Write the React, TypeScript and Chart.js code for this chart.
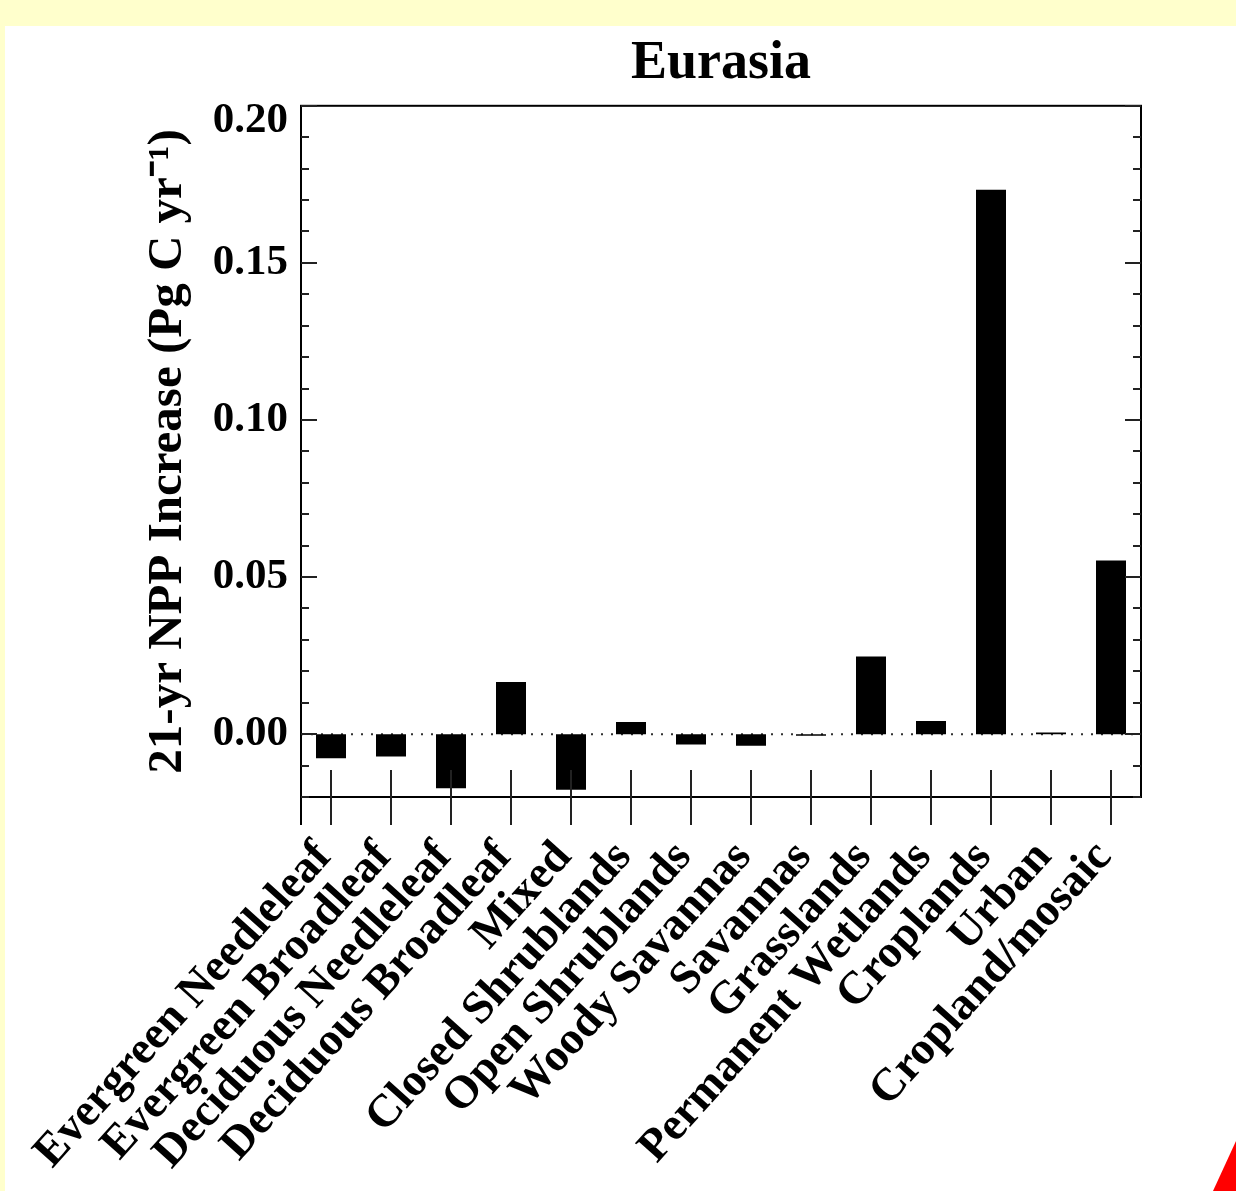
import { useEffect, useRef } from 'react';
import { Chart, registerables } from 'chart.js';

Chart.register(...registerables);

const categories = [
  'Evergreen Needleleaf',
  'Evergreen Broadleaf',
  'Deciduous Needleleaf',
  'Deciduous Broadleaf',
  'Mixed',
  'Closed Shrublands',
  'Open Shrublands',
  'Woody Savannas',
  'Savannas',
  'Grasslands',
  'Permanent Wetlands',
  'Croplands',
  'Urban',
  'Cropland/mosaic',
];

const nppIncrease = [
  -0.0077, -0.0071, -0.0172, 0.0166, -0.0177, 0.0039, -0.0033, -0.0037,
  -0.0005, 0.0247, 0.0042, 0.1733, 0.0005, 0.0553,
];

const yTickValues = [0, 0.05, 0.1, 0.15, 0.2];
const yTickLabels = ['0.00', '0.05', '0.10', '0.15', '0.20'];
const yMinorTickValues = [
  -0.02, -0.01, 0.01, 0.02, 0.03, 0.04, 0.06, 0.07, 0.08, 0.09, 0.11, 0.12,
  0.13, 0.14, 0.16, 0.17, 0.18, 0.19,
];

const chartTitle = 'Eurasia';
const yAxisTitle = '21-yr NPP Increase (Pg C yr\u207B\u00B9)';

const FONT = "'Liberation Serif', 'Times New Roman', Times, serif";

const framePlugin = {
  id: 'idlFrame',
  beforeDatasetsDraw(chart: any) {
    const { ctx, chartArea: a, scales } = chart;
    const y0 = scales.y.getPixelForValue(0);
    ctx.save();
    ctx.strokeStyle = '#333';
    ctx.lineWidth = 2;
    ctx.setLineDash([2, 8]);
    ctx.beginPath();
    ctx.moveTo(a.left, y0);
    ctx.lineTo(a.right, y0);
    ctx.stroke();
    ctx.restore();
  },
  afterDraw(chart: any) {
    const { ctx, chartArea: a, scales } = chart;
    const x = scales.x;
    const y = scales.y;
    ctx.save();
    ctx.strokeStyle = '#000';
    ctx.lineWidth = 2;
    ctx.strokeRect(a.left, a.top, a.right - a.left, a.bottom - a.top);
    ctx.beginPath();
    ctx.moveTo(a.left, a.bottom);
    ctx.lineTo(a.left, a.bottom + 28);
    ctx.stroke();

    ctx.strokeStyle = '#222';
    ctx.beginPath();
    const tick = (v: number, len: number) => {
      const p = Math.round(y.getPixelForValue(v));
      ctx.moveTo(a.left, p);
      ctx.lineTo(a.left + len, p);
      ctx.moveTo(a.right, p);
      ctx.lineTo(a.right - len, p);
    };
    yTickValues.forEach((v) => tick(v, 16));
    yMinorTickValues.forEach((v) => tick(v, 8));
    categories.forEach((_, i) => {
      const px = Math.round(x.getPixelForValue(i));
      ctx.moveTo(px, a.bottom - 27);
      ctx.lineTo(px, a.bottom + 28);
    });
    ctx.stroke();
    ctx.restore();
  },
};

export default function App() {
  const canvasRef = useRef<HTMLCanvasElement | null>(null);

  useEffect(() => {
    if (!canvasRef.current) return;
    const chart = new Chart(canvasRef.current, {
      type: 'bar',
      data: {
        labels: categories,
        datasets: [
          {
            data: nppIncrease,
            backgroundColor: '#000',
            borderWidth: 0,
            barPercentage: 0.5,
            categoryPercentage: 1.0,
          },
        ],
      },
      options: {
        responsive: false,
        animation: false,
        devicePixelRatio: 1,
        layout: { padding: { left: 0, right: 95, top: 0, bottom: 0 } },
        plugins: {
          legend: { display: false },
          tooltip: { enabled: false },
          title: {
            display: true,
            text: chartTitle,
            fullSize: false,
            color: '#000',
            font: { family: FONT, size: 54, weight: 'bold', lineHeight: 1.2 },
            padding: { top: 32, bottom: 9 },
          },
        },
        scales: {
          x: {
            type: 'category',
            offset: true,
            grid: { display: false, drawTicks: false },
            border: { display: false },
            ticks: {
              color: '#000',
              font: { family: FONT, size: 46, weight: 'bold' },
              minRotation: 48,
              maxRotation: 48,
              autoSkip: false,
              padding: 34,
              labelOffset: -7,
            },
            afterFit: (scale: any) => {
              scale.height = 1191 - 797;
              scale.paddingLeft = 0;
              scale.paddingRight = 0;
            },
          },
          y: {
            type: 'linear',
            min: -0.02,
            max: 0.2,
            grid: { display: false, drawTicks: false },
            border: { display: false },
            afterBuildTicks: (scale: any) => {
              scale.ticks = yTickValues.map((v) => ({ value: v }));
            },
            ticks: {
              color: '#000',
              padding: 13,
              font: (ctx: any) => ({
                family: FONT,
                size: 43,
                weight: 'bold',
                lineHeight:
                  ctx.tick && Math.abs(ctx.tick.value - 0.2) < 1e-9 ? 0.7 : 1.2,
              }),
              callback: (value: any) => {
                const idx = yTickValues.findIndex((v) => Math.abs(v - Number(value)) < 1e-9);
                const label = idx >= 0 ? yTickLabels[idx] : '';
                return idx === yTickValues.length - 1 ? ['', label] : label;
              },
            },
            title: {
              display: true,
              text: yAxisTitle,
              color: '#000',
              font: { family: FONT, size: 49, weight: 'bold' },
              padding: { top: 139, bottom: 0 },
            },
            afterFit: (scale: any) => {
              scale.width = 301;
              scale.paddingTop = 0;
              scale.paddingBottom = 0;
            },
          },
        },
      },
      plugins: [framePlugin],
    });
    return () => chart.destroy();
  }, []);

  return (
    <div
      style={{
        position: 'fixed',
        left: 0,
        top: 0,
        width: 1236,
        height: 1191,
        background: '#FFFFCC',
        overflow: 'hidden',
      }}
    >
      <div
        style={{
          position: 'absolute',
          left: 5,
          top: 26,
          right: 0,
          bottom: 0,
          background: '#FFFFFF',
        }}
      />
      <canvas
        ref={canvasRef}
        width={1236}
        height={1191}
        style={{ position: 'absolute', left: 0, top: 0 }}
      />
      <div
        style={{
          position: 'absolute',
          left: 1200,
          top: 1130,
          width: 36,
          height: 61,
          background: '#FF0000',
          clipPath: 'polygon(13px 61px, 36px 11px, 36px 61px)',
        }}
      />
    </div>
  );
}
